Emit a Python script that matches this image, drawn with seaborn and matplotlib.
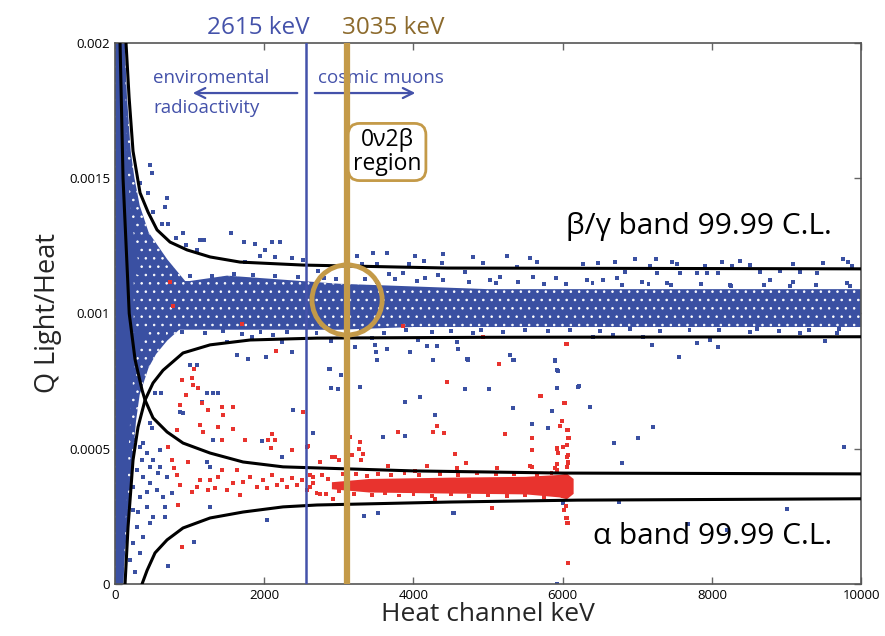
import numpy as np
import pandas as pd
import matplotlib
matplotlib.use("Agg")
import matplotlib.pyplot as plt
from matplotlib.patches import Ellipse
import seaborn as sns

# ---------------- data ----------------
# black band limits (keV, Q)
beta_hi_x = [147, 188, 241, 335, 442, 563, 737, 965, 1274, 1676, 2520, 4450, 10000]
beta_hi_y = [0.002, 0.0018, 0.0016, 0.001446, 0.001375, 0.001309, 0.001264, 0.001235, 0.001209, 0.00119, 0.001179, 0.001168, 0.001165]
beta_lo_x = [134, 174, 241, 308, 402, 509, 643, 911, 1274, 1810, 2707, 5000, 10000]
beta_lo_y = [0, 0.00021, 0.000458, 0.00058, 0.00068, 0.000743, 0.00079, 0.000854, 0.000884, 0.000902, 0.000909, 0.000912, 0.000914]
alpha_hi_x = [67, 107, 190, 268, 362, 402, 509, 697, 911, 1274, 1716, 2252, 2707, 4000, 6000, 10000]
alpha_hi_y = [0.002, 0.0015, 0.001, 0.00083, 0.000717, 0.00068, 0.000614, 0.000562, 0.000521, 0.000484, 0.000451, 0.000433, 0.000429, 0.000418, 0.00041, 0.000407]
alpha_lo_x = [362, 429, 536, 697, 911, 1274, 1716, 2252, 2707, 4500, 6200, 10000]
alpha_lo_y = [0, 0.00005, 0.000115, 0.000163, 0.000207, 0.000244, 0.000266, 0.000285, 0.000292, 0.000303, 0.00031, 0.000315]

# saturated low-energy region: solid core and speckled halo (right edge vs Q)
blob_y = [0, 0.0001, 0.0002, 0.0003, 0.0004, 0.0005, 0.0006, 0.0007, 0.0008, 0.00085, 0.0009, 0.00095, 0.001,
          0.00105, 0.0011, 0.0012, 0.0013, 0.0014, 0.0015, 0.0016, 0.0018, 0.002]
blob_core_x = [100, 115, 130, 145, 160, 175, 195, 215, 250, 290, 350, 450, 550, 500, 400, 300, 240, 200, 170, 150, 135, 125]
blob_halo_x = [110, 130, 160, 190, 220, 250, 280, 330, 450, 550, 700, 900, 1100, 1100, 1000, 700, 450, 330, 260, 210, 160, 130]

# dense core of the beta/gamma band
band_x = [250, 400, 600, 800, 1000, 1500, 2000, 2500, 3000, 4000, 5000, 6000, 8000, 10000]
band_lo = [0.00093, 0.00094, 0.00094, 0.00094, 0.00094, 0.00094, 0.00094, 0.00094, 0.00094, 0.00095, 0.00095, 0.00095, 0.00095, 0.00095]
band_hi = [0.00115, 0.00113, 0.00112, 0.00112, 0.00112, 0.00114, 0.00113, 0.00112, 0.00111, 0.0011, 0.00109, 0.00109, 0.00109, 0.00109]

# dense core of the alpha band
acore_x = [2900, 3400, 4500, 5500, 5950, 6050, 6140]
acore_lo = [0.000352, 0.00034, 0.000336, 0.000333, 0.000322, 0.000315, 0.000335]
acore_hi = [0.000378, 0.00039, 0.000395, 0.000398, 0.000405, 0.00041, 0.00039]

# single events, blue (beta/gamma)
blue_x = [469, 496, 697, 670, 711, 630, 911, 817, 952, 1139, 1193, 1555, 1729, 1877, 2011, 2104, 2212, 2145, 2372,
          1944, 1743, 1099, 442, 509, 335,
          1636, 1783, 2024, 2158, 2372, 2238, 2118, 1836, 1501, 1099, 1005,
          617, 536, 871, 911, 1166, 1233, 1314, 1381, 2386, 1314, 1970, 2238, 2037, 1059, 711, 469, 496, 1233, 1274,
          1274, 670, 670,
          241, 335, 429, 509, 603, 295, 375, 469, 563, 643, 241, 335, 429, 509, 241, 295, 375, 241, 335, 268, 201,
          697, 764, 603, 375, 469, 362, 228, 576, 429, 308, 469,
          3244, 3458, 3646, 3311, 3512, 3673, 3861, 4021, 3941, 4142, 4397, 4383, 4156, 4330, 4799, 4933, 4692, 5027,
          5255, 5161, 5563, 5657, 5389, 5603, 5912, 2721, 2520, 2962, 3512, 3660,
          3485, 3499, 3646, 3954, 4182, 4316, 4598, 4263, 4719, 5295, 5335, 5898, 5925, 2882, 3029, 3512, 3217, 2895,
          3445, 4062, 4584, 4799,
          6971, 6703, 6475, 6274, 7252, 7466, 7533, 8137, 8378, 7909, 8271, 8512, 9088, 9490, 9758, 9825, 9879, 7172,
          6837, 7266, 7574, 7802, 7936, 8083, 8646, 8914, 9182, 9410, 6327, 6542, 6729, 7064, 7400, 8244, 8780, 9088, 9812,
          7198, 7560, 7802, 7976, 8083, 9517, 7077, 6676, 8512, 9182, 9678, 6408,
          2868, 2895, 2989, 3284, 4263, 4732, 5335, 5898, 5938, 3887, 4088, 4290, 4692, 5013, 5335, 5858, 5925, 6220,
          5590, 5804, 3593, 3887, 2654, 3338, 3525, 4544, 6005, 5925,
          6207, 6368, 7212, 7011, 6689, 6796, 9772, 9008, 7681, 8204, 6756, 4598, 4732, 5295, 5348, 4531,
          # ragged lower edge of the band
          650, 900, 1200, 1450, 1700, 1950, 2300, 2700, 3300, 3600, 3900, 4250, 4500, 4900, 5200, 5500, 5800, 6100,
          6500, 6900, 7300, 7700, 8100, 8600, 8900, 9300, 9700,
          # ragged upper edge of the band
          700, 1000, 1300, 1600, 1850, 2150, 2450, 2800, 3350, 3750, 4050, 4400, 4750, 5100, 5400, 5750, 6050, 6400,
          6800, 7150, 7450, 7850, 8250, 8700, 9050, 9400, 9850]
blue_y = [0.00155, 0.00152, 0.001427, 0.001394, 0.001331, 0.001331, 0.001298, 0.001279, 0.001253, 0.001272, 0.001272,
          0.001298, 0.001264, 0.001257, 0.001235, 0.001264, 0.001264, 0.001209, 0.001205, 0.001213, 0.00119, 0.001235,
          0.001446, 0.001375, 0.001482,
          0.000847, 0.000832, 0.000839, 0.000861, 0.000858, 0.000895, 0.00092, 0.000913, 0.000895, 0.00081, 0.00081,
          0.000706, 0.000706, 0.000636, 0.000632, 0.000673, 0.000706, 0.000706, 0.000706, 0.000643, 0.000532, 0.000529,
          0.00047, 0.000237, 0.000155, 0.0000665, 0.000595, 0.000577, 0.000451, 0.000433,
          0.000285, 0.000248, 0.000285,
          0.000532, 0.000506, 0.000484, 0.000458, 0.000433, 0.000421, 0.000396, 0.000373, 0.000348, 0.000322, 0.000359,
          0.000322, 0.000285, 0.000248, 0.000274, 0.000211, 0.000174, 0.000152, 0.000115, 0.0000444, 0.0000887,
          0.000396, 0.000336, 0.000495, 0.000521, 0.000433, 0.000458, 0.000484, 0.00041, 0.00034, 0.000266, 0.000225,
          0.001213, 0.001224, 0.001224, 0.001183, 0.001183, 0.001146, 0.00115, 0.001213, 0.001183, 0.001194, 0.00122,
          0.001187, 0.001131, 0.001142, 0.001209, 0.001187, 0.001153, 0.001124, 0.001213, 0.001135, 0.001205, 0.00119,
          0.001172, 0.001135, 0.001131, 0.001157, 0.001198, 0.001128, 0.001116, 0.001091,
          0.000884, 0.000858, 0.000869, 0.000858, 0.00088, 0.00088, 0.000869, 0.000828, 0.000832, 0.000847, 0.000828,
          0.000824, 0.000791, 0.000795, 0.000773, 0.000828, 0.000876, 0.000898, 0.000909, 0.000902, 0.000895, 0.000928,
          0.001201, 0.00119, 0.001187, 0.001183, 0.001201, 0.00119, 0.001183, 0.00119, 0.001194, 0.001176, 0.001176,
          0.001179, 0.001183, 0.001187, 0.001201, 0.00119, 0.001176, 0.001176, 0.001153, 0.00115, 0.00115, 0.00115,
          0.00115, 0.00115, 0.001153, 0.001157, 0.001153, 0.00115, 0.001124, 0.001124, 0.001131, 0.001116, 0.001113,
          0.001105, 0.001124, 0.001116, 0.001113,
          0.000884, 0.000839, 0.000891, 0.000902, 0.000876, 0.000898, 0.000913, 0.00092, 0.000932, 0.000928, 0.000928,
          0.000913,
          0.000795, 0.000725, 0.000721, 0.000728, 0.000828, 0.000828, 0.000828, 0.000828, 0.000787, 0.000673, 0.000691,
          0.000625, 0.000721, 0.000721, 0.000651, 0.00064, 0.000725, 0.000732, 0.000591, 0.000577, 0.000543, 0.000547,
          0.000558, 0.000251, 0.000262, 0.000262, 0.000299, 0.0,
          0.000728, 0.000654, 0.00058, 0.00054, 0.000521, 0.000447, 0.000506, 0.000277, 0.000222, 0.0002, 0.000303,
          0.000869, 0.000832, 0.000847, 0.000828, 0.000262,
          0.000925, 0.000932, 0.000928, 0.000936, 0.000924, 0.000933, 0.00093, 0.000927, 0.000935, 0.000929, 0.000938,
          0.000931, 0.000936, 0.00094, 0.000933, 0.000938, 0.000935, 0.00094, 0.000936, 0.000943, 0.000934, 0.00094,
          0.000938, 0.000942, 0.000936, 0.00094, 0.000944,
          0.001135, 0.00114, 0.001138, 0.001145, 0.001142, 0.001138, 0.001134, 0.00113, 0.001128, 0.001126, 0.00112,
          0.001124, 0.001118, 0.001112, 0.001116, 0.00111, 0.001108, 0.001113, 0.001106, 0.00111, 0.001104, 0.001108,
          0.001102, 0.001106, 0.0011, 0.001104, 0.001101]

# single events, red (alpha)
red_x = [894, 1028, 1050, 1113, 952, 871, 1162, 1247, 1430, 1583, 1448, 1381, 1139, 1180, 831, 1583, 1430, 1743,
         2100, 2050, 2145, 2087, 2369, 711, 2587, 2520, 894, 764, 791, 979,
         831, 871, 845, 1099, 1139, 1274, 1340, 1381, 1501, 1582, 1676, 1716, 1810, 1903, 1984, 2037, 2104, 2171,
         2238, 2305, 2372, 2439, 2506, 2573, 2654, 1247, 1032, 1636, 1434,
         2574, 3150, 3284, 3270, 3325, 3177, 2748, 2908, 2949, 3003, 3297, 3793, 4262, 4316, 4410, 4450, 5148, 4558,
         4705, 5228, 5697, 5590, 5590, 5563, 5965, 5992, 6032, 6072, 6086, 5925, 6059, 6072, 5925, 6019, 6046, 6059,
         6072, 5054, 4289, 2922, 2748, 2614, 2614, 3660, 4182, 4584, 5121, 4021,
         6046, 5710, 6019, 5992, 5965, 6059, 5590, 6072, 5590, 5925, 6005, 6059, 6072, 5938, 6072, 5925, 5590, 5898,
         6059, 6046, 6019, 6059, 6072, 6072,
         737, 777, 1702, 2158, 1059, 3861, 4933, 5148, 6059,
         # ragged edges of the alpha cluster
         2650, 2780, 2860, 3050, 3120, 3230, 3380, 3520, 3700, 3880, 4080, 4350, 4600, 4850, 5100, 5350, 5650, 5850,
         2700, 2830, 3000, 3200, 3450, 3620, 3800, 4000, 4250, 4500, 4750, 5000, 5250, 5500, 5750, 6000]
red_y = [0.000754, 0.000761, 0.000737, 0.000725, 0.000699, 0.000662, 0.000669, 0.000643, 0.000655, 0.000654,
         0.000625, 0.00058, 0.000588, 0.000562, 0.000569, 0.000573, 0.000532, 0.000532, 0.000555, 0.000532, 0.000532,
         0.000503, 0.000495, 0.000506, 0.00051, 0.000636, 0.000137, 0.000458, 0.000429, 0.000451,
         0.000403, 0.000366, 0.000292, 0.000359, 0.000384, 0.000384, 0.000355, 0.000396, 0.000348, 0.000373, 0.000329,
         0.000377, 0.000396, 0.000359, 0.000384, 0.000355, 0.000403, 0.000366, 0.000384, 0.000359, 0.000392, 0.000366,
         0.000384, 0.000348, 0.000373, 0.000348, 0.00034, 0.000421, 0.000421,
         0.000506, 0.000543, 0.000525, 0.000499, 0.000481, 0.000477, 0.000451, 0.00047, 0.00047, 0.000458, 0.000458,
         0.000562, 0.000562, 0.000584, 0.000558, 0.000747, 0.000813, 0.000481, 0.000447, 0.000555, 0.000695, 0.00054,
         0.000495, 0.000436, 0.000584, 0.000603, 0.000669, 0.000569, 0.00054, 0.000499, 0.00047, 0.000447, 0.000421,
         0.000274, 0.000244, 0.000225, 0.0000776, 0.000281, 0.000314, 0.000314, 0.000333, 0.000359, 0.000403, 0.000436,
         0.000436, 0.000429, 0.000429, 0.000418,
         0.000887, 0.000695, 0.000669, 0.000603, 0.000584, 0.000569, 0.00054, 0.00054, 0.000495, 0.000503, 0.000506,
         0.000514, 0.000477, 0.000484, 0.000451, 0.000444, 0.000432, 0.000429, 0.000432, 0.000288, 0.000274, 0.000244,
         0.000225, 0.0000776,
         0.001116, 0.001028, 0.000961, 0.000861, 0.000795, 0.000954, 0.000913, 0.000813, 0.000887,
         0.000395, 0.000402, 0.000388, 0.000405, 0.000398, 0.000408, 0.0004, 0.000406, 0.000402, 0.000409, 0.000404,
         0.000407, 0.000403, 0.000409, 0.000405, 0.000408, 0.000404, 0.00041,
         0.000338, 0.000332, 0.000345, 0.000334, 0.000328, 0.000336, 0.000327, 0.000333, 0.000326, 0.000331, 0.000324,
         0.00033, 0.000325, 0.000328, 0.000322, 0.000326]

BLUE = "#3A50A2"
RED = "#E8332E"
GOLD = "#C49A48"
GOLD_TXT = "#8C6A2C"
LINE_BLUE = "#4452AA"

sns.set_theme(style="white")
plt.rcParams["font.family"] = ["Open Sans", "DejaVu Sans"]
plt.rcParams["hatch.linewidth"] = 0.6

fig = plt.figure(figsize=(8.85, 6.36), dpi=100)
ax = fig.add_axes([0.130, 0.0818, 0.843, 0.8506])

# dense regions (solid core, speckled surroundings)
ax.fill_betweenx(blob_y, 0, blob_halo_x, facecolor=BLUE, edgecolor="white", hatch="..", lw=0, zorder=1)
ax.fill_betweenx(blob_y, 0, blob_core_x, color=BLUE, lw=0, zorder=1)
ax.fill_between(band_x, band_lo, band_hi, facecolor=BLUE, edgecolor="white", hatch="..", lw=0, zorder=1)
ax.fill_between(acore_x, acore_lo, acore_hi, color=RED, lw=0, zorder=1)

pts = pd.DataFrame({
    "energy": blue_x + red_x,
    "ratio": blue_y + red_y,
    "kind": ["beta"] * len(blue_x) + ["alpha"] * len(red_x),
})
sns.scatterplot(data=pts, x="energy", y="ratio", hue="kind", palette={"beta": BLUE, "alpha": RED},
                s=8, marker="s", linewidth=0, legend=False, ax=ax, zorder=2)

for cx, cy in [(beta_hi_x, beta_hi_y), (beta_lo_x, beta_lo_y), (alpha_hi_x, alpha_hi_y), (alpha_lo_x, alpha_lo_y)]:
    sns.lineplot(x=cx, y=cy, sort=False, estimator=None, color="black", lw=2.2, ax=ax, zorder=3)

# markers for the two energies
ax.axvline(2555, color=LINE_BLUE, lw=1.8, zorder=4)
ax.axvline(3110, color=GOLD, lw=4.5, zorder=4)
ax.add_patch(Ellipse((3110, 0.00105), width=940, height=0.000259, fill=False, edgecolor=GOLD, lw=3.5, zorder=5))

ax.text(1917, 0.002055, "2615 keV", color=LINE_BLUE, fontsize=17.5, ha="center", va="center", clip_on=False)
ax.text(3727, 0.002055, "3035 keV", color=GOLD_TXT, fontsize=17.5, ha="center", va="center", clip_on=False)

ax.text(509, 0.00187, "enviromental", color=LINE_BLUE, fontsize=13.5, ha="left", va="center")
ax.text(509, 0.00176, "radioactivity", color=LINE_BLUE, fontsize=13.5, ha="left", va="center")
ax.text(2721, 0.00187, "cosmic muons", color=LINE_BLUE, fontsize=13.5, ha="left", va="center")
ax.annotate("", xy=(1005, 0.001815), xytext=(2480, 0.001815),
            arrowprops=dict(arrowstyle="->", color=LINE_BLUE, lw=1.6, mutation_scale=18))
ax.annotate("", xy=(4062, 0.001815), xytext=(2640, 0.001815),
            arrowprops=dict(arrowstyle="->", color=LINE_BLUE, lw=1.6, mutation_scale=18))

ax.text(3646, 0.001597, "0ν2β\nregion", color="black", fontsize=16.5, ha="center", va="center",
        linespacing=1.0, zorder=6,
        bbox=dict(boxstyle="round,pad=0.2,rounding_size=0.5", fc="white", ec=GOLD, lw=2))

ax.text(9611, 0.00132, "β/γ band 99.99 C.L.", color="black", fontsize=21.5, ha="right", va="center")
ax.text(9611, 0.000174, "α band 99.99 C.L.", color="black", fontsize=21.5, ha="right", va="center")

ax.set_xlim(0, 10000)
ax.set_ylim(0, 0.002)
ax.set_xticks([0, 2000, 4000, 6000, 8000, 10000])
ax.set_xticklabels(["0", "2000", "4000", "6000", "8000", "10000"])
ax.set_yticks([0, 0.0005, 0.001, 0.0015, 0.002])
ax.set_yticklabels(["0", "0.0005", "0.001", "0.0015", "0.002"])
ax.tick_params(direction="in", length=5, width=1, colors="#666666", labelcolor="black", labelsize=9.5,
               top=True, right=True, bottom=True, left=True)
for sp in ax.spines.values():
    sp.set_color("#555555")
    sp.set_linewidth(1.2)
ax.set_xlabel("Heat channel keV", fontsize=19, labelpad=0)
ax.set_ylabel("Q Light/Heat", fontsize=19.5, labelpad=5)

fig.savefig("out.png", dpi=100)
